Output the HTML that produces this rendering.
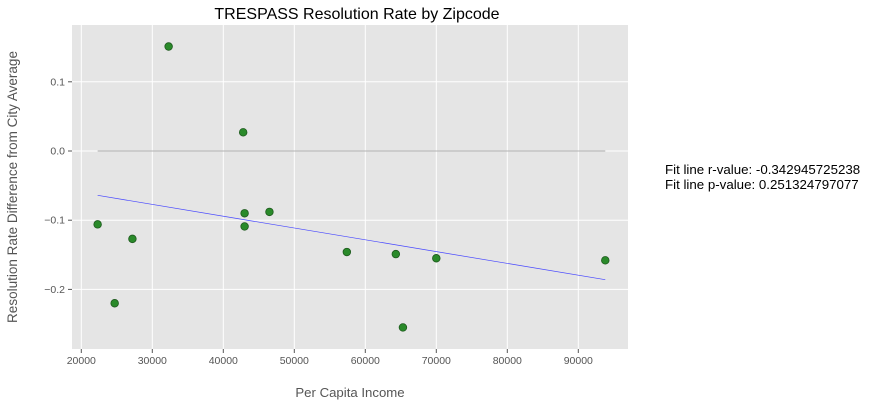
<!DOCTYPE html>
<html><head><meta charset="utf-8"><style>
body{margin:0;background:#fff;width:877px;height:407px;overflow:hidden;font-family:"Liberation Sans",sans-serif}
</style></head><body>
<svg width="877" height="407" xmlns="http://www.w3.org/2000/svg">
<g id="g"></g>
</svg>
<script>
const incomes=[22300,24700,27200,32300,42800,43000,43000,46500,57400,64300,70000,65300,93800];
const rates=[-0.106,-0.220,-0.127,0.151,0.027,-0.090,-0.109,-0.088,-0.146,-0.149,-0.155,-0.255,-0.158];
const xTicks=[20000,30000,40000,50000,60000,70000,80000,90000];
const yTicks=[0.1,0.0,-0.1,-0.2];
const yTickLabels=["0.1","0.0","\u22120.1","\u22120.2"];
const fitStart=[22300,-0.064];
const fitEnd=[93800,-0.186];
const L=72,R=628,T=25,B=349;
const xs=v=>81.3+(v-20000)*71.0/10000;
const ys=v=>151+(0-v)*69.2/0.1;
const NS="http://www.w3.org/2000/svg";
const g=document.getElementById('g');
function mk(t,a,txt){const e=document.createElementNS(NS,t);for(const k in a)e.setAttribute(k,a[k]);if(txt!==undefined)e.textContent=txt;g.appendChild(e);return e;}
let e=mk('rect',{x:L,y:T,width:R-L,height:B-T,fill:'#e5e5e5'});

xTicks.forEach(v=>{const x=xs(v);
 let l=mk('line',{x1:x,x2:x,y1:T,y2:B,stroke:'#fff','stroke-width':1});
 
 mk('line',{x1:x,x2:x,y1:B,y2:B+4,stroke:'#555'});
 let t=mk('text',{x:x,y:B+15,'font-size':10.5,fill:'#555','text-anchor':'middle'},String(v));
 
});
yTicks.forEach((v,i)=>{const y=ys(v);
 let l=mk('line',{x1:L,x2:R,y1:y,y2:y,stroke:'#fff','stroke-width':1});
 
 mk('line',{x1:L-4,x2:L,y1:y,y2:y,stroke:'#555'});
 let t=mk('text',{x:L-7,y:y+3.5,'font-size':10.5,fill:'#555','text-anchor':'end'},yTickLabels[i]);
 
});
e=mk('line',{x1:xs(Math.min(...incomes)),x2:xs(Math.max(...incomes)),y1:ys(0),y2:ys(0),stroke:'#999','stroke-width':0.7});

e=mk('line',{x1:xs(fitStart[0]),y1:ys(fitStart[1]),x2:xs(fitEnd[0]),y2:ys(fitEnd[1]),stroke:'#4444ff','stroke-width':0.7});

incomes.forEach((v,i)=>{
 const c=mk('circle',{cx:xs(v),cy:ys(rates[i]),r:3.8,fill:'#2a8a2a',stroke:'#1e5a1e','stroke-width':0.8});
 
});
e=mk('text',{x:357,y:19,'font-size':16,fill:'#000','text-anchor':'middle'},'TRESPASS Resolution Rate by Zipcode');

e=mk('text',{x:350,y:397,'font-size':13.2,fill:'#555','text-anchor':'middle'},'Per Capita Income');

e=mk('text',{x:0,y:0,'font-size':13.5,fill:'#555','text-anchor':'middle',transform:'translate(17,187) rotate(-90)'},'Resolution Rate Difference from City Average');

e=mk('text',{x:665,y:174,'font-size':13.3,fill:'#000'},'Fit line r-value: -0.342945725238');

e=mk('text',{x:665,y:189,'font-size':13.3,fill:'#000'},'Fit line p-value: 0.251324797077');

</script>
</body></html>
